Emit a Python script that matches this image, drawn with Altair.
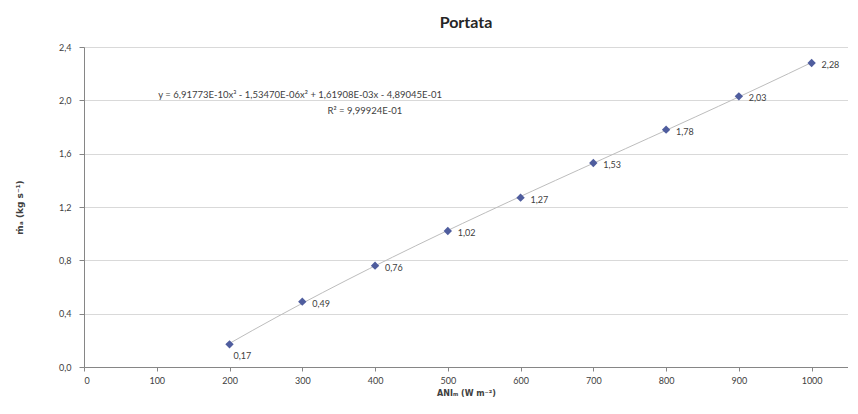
import altair as alt
import pandas as pd

irr = [200, 300, 400, 500, 600, 700, 800, 900, 1000]
flow = [0.17, 0.49, 0.76, 1.02, 1.27, 1.53, 1.78, 2.03, 2.28]
x_ticks = [0, 100, 200, 300, 400, 500, 600, 700, 800, 900, 1000]
y_ticks = [0.0, 0.4, 0.8, 1.2, 1.6, 2.0, 2.4]
eq_text = "y = 6,91773E-10x³ - 1,53470E-06x² + 1,61908E-03x - 4,89045E-01"
r2_text = "R² = 9,99924E-01"

df = pd.DataFrame({"x": irr, "y": flow})
FONT = "Lato"
TFONT = "DejaVu Sans"

xs = alt.Scale(domain=[0, 1050], nice=False)
ys = alt.Scale(domain=[0, 2.4], nice=False)

base = alt.Chart(df)

xaxis = alt.Axis(values=x_ticks, format="d", title="ANIₘ (W m⁻²)", grid=False, domainColor="#868686",
                 tickColor="#868686", tickSize=4, labelFontSize=9, labelColor="#404040",
                 titleFontSize=8, titleColor="#404040", titleFontWeight="bold", labelPadding=5,
                 titlePadding=4, labelFont=FONT, titleFont=TFONT)
yaxis = alt.Axis(values=y_ticks, title="ṁₐ (kg s⁻¹)", gridColor="#D9D9D9", domainColor="#868686",
                 tickColor="#868686", tickSize=5, labelFontSize=9, labelColor="#404040",
                 labelExpr="replace(format(datum.value, '.1f'), '.', ',')",
                 titleFontSize=9, titleColor="#404040", titleFontWeight="bold", labelPadding=8,
                 titlePadding=34, labelFont=FONT, titleFont=TFONT)

trend = base.transform_regression("x", "y", method="poly", order=3).mark_line(
    color="#BDBDBD", strokeWidth=1).encode(
    x=alt.X("x:Q", scale=xs, axis=xaxis),
    y=alt.Y("y:Q", scale=ys, axis=yaxis),
)

pts = base.mark_point(shape="diamond", filled=True, color="#4F5D9E", size=70, opacity=1).encode(
    x=alt.X("x:Q", scale=xs), y=alt.Y("y:Q", scale=ys))

lab_main = base.transform_filter("datum.x > 200").transform_calculate(
    lab="replace(format(datum.y, '.2f'), '.', ',')").mark_text(
    align="left", baseline="middle", dx=10, dy=2, fontSize=9, color="#404040", font=FONT).encode(
    x=alt.X("x:Q", scale=xs), y=alt.Y("y:Q", scale=ys), text="lab:N")

lab_first = base.transform_filter("datum.x == 200").transform_calculate(
    lab="replace(format(datum.y, '.2f'), '.', ',')").mark_text(
    align="left", baseline="middle", dx=4, dy=12, fontSize=9, color="#404040", font=FONT).encode(
    x=alt.X("x:Q", scale=xs), y=alt.Y("y:Q", scale=ys), text="lab:N")

eq = alt.Chart(pd.DataFrame({"t": [eq_text]})).mark_text(
    fontSize=9.5, color="#404040", font=FONT).encode(
    x=alt.datum(297, scale=xs), y=alt.datum(2.04, scale=ys), text="t:N")
r2 = alt.Chart(pd.DataFrame({"t": [r2_text]})).mark_text(
    fontSize=9.5, color="#404040", font=FONT).encode(
    x=alt.datum(386, scale=xs), y=alt.datum(1.92, scale=ys), text="t:N")

chart = alt.layer(trend, pts, lab_main, lab_first, eq, r2).properties(
    width=764, height=320,
    title=alt.TitleParams("Portata", fontSize=16, font=FONT, fontWeight="bold",
                          color="#262626", anchor="middle", offset=12),
    autosize=alt.AutoSizeParams(type="none"),
    padding={"left": 76, "top": 39, "right": 0, "bottom": 35},
).configure_view(stroke=None).configure(background="white")

chart.save("out.html", embed_options={"renderer": "svg", "actions": False})
